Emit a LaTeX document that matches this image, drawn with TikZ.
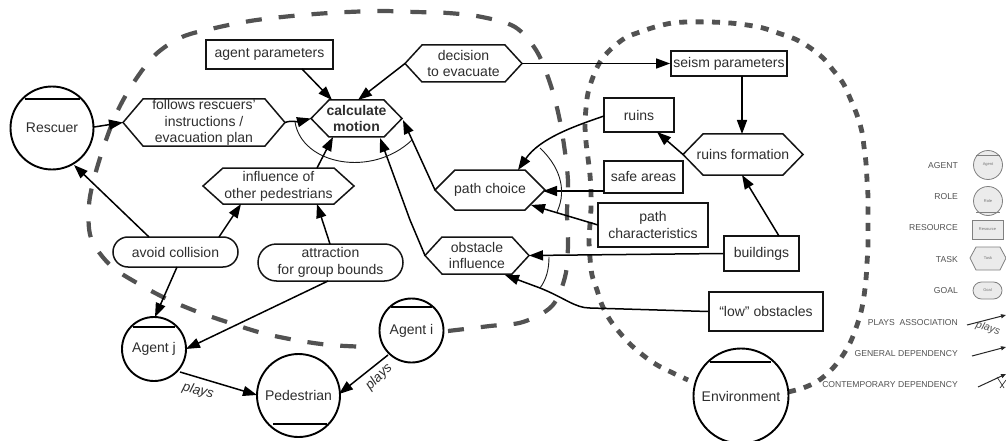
\documentclass[tikz,border=0pt]{standalone}
\usepackage{fontspec}
\setmainfont{Liberation Sans}
\usetikzlibrary{arrows.meta,shapes.misc}
\tikzset{
  x=1pt,y=-1pt,
  lbl/.style={font=\fontsize{14}{16.8}\selectfont,text=black!82,align=center,inner sep=0pt},
  box/.style={draw=black!92,line width=1.7pt,fill=white,inner sep=0pt},
  hexa/.style={draw=black!92,line width=1.5pt,line join=miter,fill=white},
  pill/.style={draw=black!92,line width=1.5pt,fill=white,rounded rectangle,inner sep=0pt},
  disc/.style={draw=black,line width=1.9pt,fill=white,circle,inner sep=0pt},
  chord/.style={draw=black,line width=1.5pt},
  dep/.style={draw=black,line width=1.5pt,-{Triangle[length=14pt,width=10pt]}},
  arcline/.style={draw=black!90,line width=0.9pt},
  bigdash/.style={draw=black!68,line width=4.2pt,dash pattern=on 16pt off 17pt},
  smalldash/.style={draw=black!68,line width=4.8pt,dash pattern=on 8pt off 8.4pt},
  legend/.style={font=\fontsize{8.6}{10}\selectfont,text=black!68,anchor=east,inner sep=0pt},
  legshape/.style={draw=black!50,line width=0.8pt,fill=black!8},
  legline/.style={draw=black!85,line width=1pt,-{Triangle[length=5pt,width=4pt]}},
  legtext/.style={font=\fontsize{4}{5}\selectfont,text=black!55,inner sep=0pt}
}
\newcommand{\hexnode}[8]{% name, left, right, top, bottom, inset, text, options
  \path[hexa,#8] (#2,{(#4+#5)/2}) -- (#2+#6,#4) -- (#3-#6,#4) -- (#3,{(#4+#5)/2}) -- (#3-#6,#5) -- (#2+#6,#5) -- cycle;
  \node[lbl] (#1) at ({(#2+#3)/2},{(#4+#5)/2}) {#7};
  \coordinate (#1L) at (#2,{(#4+#5)/2});
  \coordinate (#1R) at (#3,{(#4+#5)/2});
}
\begin{document}
\begin{tikzpicture}
\useasboundingbox (0,0) rectangle (1006,441);
\fill[white] (0,0) rectangle (1006,441);
% dashed blobs
\draw[bigdash] plot[smooth,tension=0.55] coordinates {(448,331) (490,326) (523,322) (552,306) (565,277) (568,245) (567,213) (568,181) (564,145) (558,112) (549,80) (536,50) (515,27) (482,17) (448,13) (415,12) (382,11) (348,12) (315,14) (282,17) (250,21) (215,28) (182,37) (155,55) (134,82) (118,110) (106,140) (95,175) (89,205) (91,238) (110,265) (137,283) (167,299) (198,312) (230,323) (262,333) (295,340) (330,345) (370,347)};
\draw[smalldash] plot[smooth,tension=0.55] coordinates {(788,392) (803,388) (818,381) (831,370) (841,358) (850,343) (856,328) (861,312) (864,296) (866,279) (867,263) (868,246) (868,229) (868,213) (868,197) (867,180) (866,163) (864,147) (862,132) (857,115) (850,98) (843,83) (833,70) (823,58) (809,47) (795,39) (778,33) (763,28) (747,25) (730,23) (710,22) (688,22) (672,23) (655,27) (640,32) (625,38) (610,50) (600,62) (593,77) (588,93) (586,108) (585,125) (586,142) (588,158) (590,175) (591,192) (591,208) (590,224) (589,240) (590,258) (592,275) (597,290) (602,305) (610,320) (620,333) (631,345) (644,356) (657,365) (673,373) (688,380)};
% main nodes
\node[box,lbl,minimum width=127pt,minimum height=29pt] (agentpar) at (269.5,54.5) {agent parameters};
\node[box,lbl,minimum width=116pt,minimum height=25pt] (seism) at (729,63.5) {seism parameters};
\node[box,lbl,minimum width=70pt,minimum height=34pt] (ruins) at (639,115) {ruins};
\node[box,lbl,minimum width=79pt,minimum height=32pt] (safe) at (643.5,177) {safe areas};
\node[box,lbl,minimum width=110pt,minimum height=44pt] (pathchar) at (653,225) {path\\characteristics};
\node[box,lbl,minimum width=75pt,minimum height=35pt] (buildings) at (761.5,253.5) {buildings};
\node[box,lbl,minimum width=114pt,minimum height=39pt] (low) at (766,311.5) {``low'' obstacles};
\node[pill,lbl,minimum width=125pt,minimum height=30pt] (avoid) at (175.5,252) {avoid collision};
\node[pill,lbl,minimum width=145pt,minimum height=37pt] (attr) at (330.5,262.5) {attraction\\for group bounds};
\hexnode{decision}{405}{522}{45}{82}{17}{decision\\to evacuate}{}
\hexnode{follows}{123}{285}{99}{146}{20}{follows rescuers'\\instructions /\\evacuation plan}{}
\hexnode{motion}{311}{402}{100}{137}{18}{\textbf{calculate}\\\textbf{motion}}{}
\hexnode{infl}{203}{354}{168}{204}{20}{influence of\\other pedestrians}{}
\hexnode{pathchoice}{435}{545}{170}{210}{20}{path choice}{}
\hexnode{form}{683}{803}{134}{175}{20}{ruins formation}{}
\hexnode{obst}{425}{529}{237}{274}{17}{obstacle\\influence}{}
\node[disc,lbl,minimum size=83pt] (rescuer) at (52,128) {Rescuer};
\draw[chord] (25,99) -- (80,99);
\node[disc,lbl,minimum size=64pt] (agentj) at (154,349) {Agent j};
\draw[chord] (133,327) -- (175,327);
\node[disc,lbl,minimum size=64pt] (agenti) at (411.5,330.5) {Agent i};
\draw[chord] (391,307) -- (432,307);
\node[disc,lbl,minimum size=83pt] (ped) at (298.5,395.5) {Pedestrian};
\draw[chord] (273,424) -- (327,424);
\node[disc,lbl,minimum size=95pt] (env) at (741,396) {Environment};
\draw[chord] (710,362) -- (771,362);
% connector end points
\coordinate (apS) at (302,69);
\coordinate (motionT) at (332,100);
\coordinate (motionT2) at (358,100);
\coordinate (resE) at (94,127);
\coordinate (inflT) at (317,168);
\coordinate (motionB) at (333,137);
\coordinate (motionB2) at (380,138);
\coordinate (motionRR) at (403,120);
\coordinate (obK) at (410,220);
\coordinate (formT) at (742,134);
\coordinate (seismS) at (742,76);
\coordinate (ruinsS) at (657,132);
\coordinate (ruinsW) at (604,116);
\coordinate (pcT) at (518,170);
\coordinate (pcB) at (531,205);
\coordinate (pcW) at (598,225);
\coordinate (safeW) at (604,191);
\coordinate (pcR) at (543,191);
\coordinate (bT) at (779,236);
\coordinate (fB) at (742,175);
\coordinate (obB) at (505,275);
\coordinate (obM) at (590,308);
\coordinate (obK2) at (540,288);
\coordinate (avA) at (149,237);
\coordinate (avB) at (219,237);
\coordinate (avS) at (177,267);
\coordinate (resS) at (74,165);
\coordinate (inflB) at (241,204);
\coordinate (inflB2) at (317,204);
\coordinate (attrT) at (330,244);
\coordinate (ajT) at (155,317);
\coordinate (atS) at (328,281);
\coordinate (ajE) at (186,349);
\coordinate (ajS) at (180,372);
\coordinate (pedW) at (257,395);
\coordinate (aiS) at (388,355);
\coordinate (pedE) at (339,394);
% dependencies
\draw[dep] (apS) -- (motionT);
\draw[dep] (decisionL) -- (motionT2);
\draw[dep] (resE) -- (followsL);
\draw[dep] (followsR) .. controls (292,120) and (298,122) .. (motionL);
\draw[dep] (inflT) -- (motionB);
\draw[dep] (pathchoiceL) -- (motionRR);
\draw[dep] (obstL) -- (obK) -- (motionB2);
\draw[dep] (decisionR) -- (seism.west);
\draw[dep] (seismS) -- (formT);
\draw[dep] (formL) -- (ruinsS);
\draw[dep] (ruinsW) .. controls (575,126) and (540,138) .. (pcT);
\draw[dep] (safeW) -- (pcR);
\draw[dep] (pcW) -- (pcB);
\draw[dep] (bT) -- (fB);
\draw[dep] (buildings.west) -- (obstR);
\draw[dep] (low.west) -- (obM) .. controls (575,308) and (565,298) .. (obK2) -- (obB);
\draw[dep] (avA) -- (resS);
\draw[dep] (avB) -- (inflB);
\draw[dep] (attrT) -- (inflB2);
\draw[dep] (avS) -- (ajT);
\draw[dep] (atS) -- (ajE);
\draw[dep] (ajS) -- (pedW);
\draw[dep] (aiS) -- (pedE);
% arcs
\coordinate (a1s) at (295,122);
\coordinate (a1e) at (412,140);
\draw[arcline] (a1s) .. controls (302,165) and (372,178) .. (a1e);
\coordinate (a2s) at (540,148);
\coordinate (a2e) at (557,212);
\draw[arcline] (a2s) .. controls (558,165) and (568,188) .. (a2e);
\coordinate (a3s) at (549,257);
\coordinate (a3e) at (540,288);
\draw[arcline] (a3s) .. controls (549,270) and (546,280) .. (a3e);
\node[lbl,font=\fontsize{13.5}{15}\selectfont\itshape,rotate=-15] (p1) at (198,391) {plays};
\node[lbl,font=\fontsize{13.5}{15}\selectfont\itshape,rotate=45] (p2) at (379,377) {plays};
% legend
\node[legend] (lg1) at (958,166) {AGENT};
\node[legend] (lg2) at (958,197) {ROLE};
\node[legend] (lg3) at (958,228) {RESOURCE};
\node[legend] (lg4) at (958,260) {TASK};
\node[legend] (lg5) at (958,291) {GOAL};
\node[legend] (lg6) at (958,323) {PLAYS\ \ ASSOCIATION};
\node[legend] (lg7) at (958,354) {GENERAL DEPENDENCY};
\node[legend] (lg8) at (958,385) {CONTEMPORARY DEPENDENCY};
\node[circle,legshape,minimum size=29pt,inner sep=0pt] (sa) at (988,165) {};
\draw[black!50,line width=0.7pt] (976,155) -- (1000,155);
\node[legtext] at (988,165) {Agent};
\node[circle,legshape,minimum size=29pt,inner sep=0pt] (sr) at (988,201) {};
\draw[black!50,line width=0.7pt] (976,212) -- (1000,212);
\node[legtext] at (988,201) {Role};
\node[legshape,minimum width=31pt,minimum height=19pt,inner sep=0pt,legtext] (sc) at (987.5,229.5) {Resource};
\path[legshape] (970,258) -- (976,247) -- (1000,247) -- (1006,258) -- (1000,270) -- (976,270) -- cycle;
\node[legtext] at (988,258) {Task};
\node[rounded rectangle,legshape,minimum width=29pt,minimum height=17pt,inner sep=0pt,legtext] (sg) at (987.5,290.5) {Goal};
\coordinate (l1a) at (967,325);
\coordinate (l1b) at (1006,315);
\draw[legline] (l1a) -- (l1b);
\node[font=\fontsize{10.5}{11}\selectfont\itshape,text=black!70,rotate=-16,inner sep=0pt] (lp) at (988,328.5) {plays};
\coordinate (l2a) at (972,356);
\coordinate (l2b) at (1006,347);
\draw[legline] (l2a) -- (l2b);
\coordinate (l3a) at (978,387);
\coordinate (l3b) at (1006,374);
\draw[legline] (l3a) -- (l3b);
\coordinate (l3c) at (997,377);
\coordinate (l3d) at (1004,388);
\coordinate (l3e) at (1000,388);
\coordinate (l3f) at (1006,380);
\draw[black!80,line width=0.7pt] (l3c) -- (l3d);
\draw[black!80,line width=0.7pt] (l3e) -- (l3f);
\end{tikzpicture}
\end{document}
